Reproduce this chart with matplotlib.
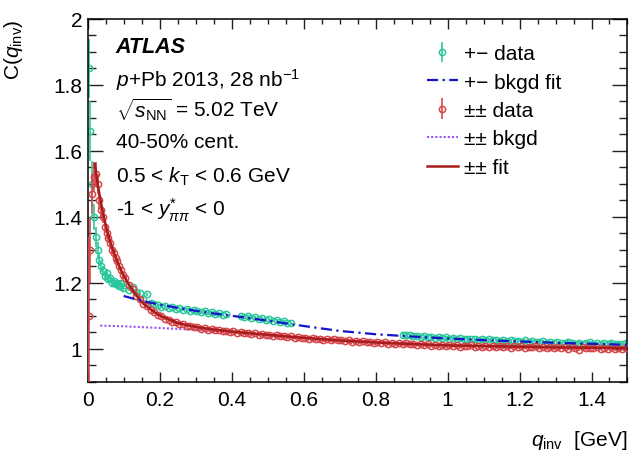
import numpy as np
import matplotlib.pyplot as plt
from matplotlib.ticker import MultipleLocator

plt.rcParams['font.family'] = ['Liberation Sans', 'DejaVu Sans']
plt.rcParams['mathtext.fontset'] = 'custom'
plt.rcParams['mathtext.rm'] = 'Liberation Sans'
plt.rcParams['mathtext.it'] = 'Liberation Sans:italic'
plt.rcParams['mathtext.bf'] = 'Liberation Sans:bold'

# bin centres: 5 MeV bins below 0.1 GeV, 10 MeV bins above
q_low = np.arange(0.0025, 0.1, 0.005)
q_high = np.arange(0.105, 1.5, 0.01)
q_bins = np.concatenate([q_low, q_high])

# like-sign (±±) correlation
ss_low = [1.10, 1.30, 1.47, 1.52, 1.53, 1.50, 1.45, 1.42, 1.40, 1.37,
          1.35, 1.335, 1.32, 1.30, 1.29, 1.275, 1.265, 1.25, 1.238, 1.225]
ss_high = [1.214, 1.193, 1.180, 1.161, 1.152, 1.136, 1.130, 1.116, 1.112, 1.101,
           1.099, 1.090, 1.088, 1.081, 1.080, 1.074, 1.074, 1.069, 1.070, 1.065,
           1.066, 1.061, 1.063, 1.058, 1.060, 1.056, 1.058, 1.053, 1.055, 1.051,
           1.053, 1.049, 1.051, 1.048, 1.049, 1.045, 1.047, 1.043, 1.045, 1.041,
           1.043, 1.040, 1.041, 1.038, 1.039, 1.036, 1.038, 1.034, 1.036, 1.033,
           1.034, 1.031, 1.033, 1.029, 1.031, 1.027, 1.030, 1.026, 1.028, 1.025,
           1.026, 1.023, 1.025, 1.021, 1.024, 1.020, 1.022, 1.019, 1.021, 1.018,
           1.020, 1.017, 1.019, 1.015, 1.018, 1.014, 1.017, 1.013, 1.016, 1.013,
           1.015, 1.011, 1.014, 1.010, 1.013, 1.009, 1.012, 1.009, 1.012, 1.008,
           1.011, 1.007, 1.010, 1.006, 1.009, 1.007, 1.010, 1.005, 1.009, 1.006,
           1.009, 1.005, 1.008, 1.004, 1.008, 1.005, 1.007, 1.003, 1.008, 1.004,
           1.007, 1.003, 1.006, 1.004, 1.007, 1.002, 1.006, 1.003, 1.005, 1.002,
           1.006, 1.001, 1.005, 0.999, 1.004, 1.002, 0.997, 1.004, 1.001, 1.003,
           1.002, 1.005, 0.999, 1.003, 1.000, 1.004, 0.998, 1.002, 1.000, 1.003]
ss_err_low = [0.24, 0.10, 0.06, 0.045, 0.035, 0.03, 0.025, 0.022, 0.02, 0.018,
              0.016, 0.015, 0.014, 0.013, 0.012, 0.011, 0.010, 0.010, 0.009, 0.009]
ss_err_high = 0.003

# opposite-sign (+−) correlation, nan = excluded resonance regions
os_low = [1.85, 1.66, 1.50, 1.40, 1.34, 1.30, 1.27, 1.25, 1.235, 1.22,
          1.23, 1.21, 1.215, 1.20, 1.205, 1.195, 1.20, 1.19, 1.198, 1.185]
os_high = [1.192, 1.178, 1.188, 1.172, 1.168, 1.152, 1.165, 1.140, 1.136, 1.133,
           1.128, 1.131, 1.124, 1.127, 1.120, 1.123, 1.117, 1.120, 1.114, 1.117,
           1.113, 1.110, 1.113, 1.107, 1.110, 1.104, 1.108, 1.103, 1.105, np.nan,
           np.nan, np.nan, 1.099, 1.096, 1.098, 1.093, 1.095, 1.090, 1.092, 1.087,
           1.089, 1.084, 1.086, 1.081, 1.083, 1.078, 1.077, np.nan, np.nan, np.nan,
           np.nan, np.nan, np.nan, np.nan, np.nan, np.nan, np.nan, np.nan, np.nan, np.nan,
           np.nan, np.nan, np.nan, np.nan, np.nan, np.nan, np.nan, np.nan, np.nan, np.nan,
           np.nan, np.nan, np.nan, np.nan, np.nan, np.nan, np.nan, 1.043, 1.041, 1.042,
           1.038, 1.040, 1.036, 1.038, 1.035, 1.037, 1.034, 1.036, 1.033, 1.035,
           1.031, 1.034, 1.030, 1.033, 1.029, 1.031, 1.028, 1.030, 1.027, 1.029,
           1.026, 1.028, 1.025, 1.027, 1.024, 1.026, 1.023, 1.025, 1.022, 1.024,
           1.021, 1.025, 1.020, 1.022, 1.019, 1.021, 1.023, 1.018, 1.020, 1.017,
           1.019, 1.016, 1.018, 1.021, 1.017, 1.015, 1.018, 1.014, 1.016, 1.019,
           1.015, 1.017, 1.013, 1.016, 1.014, 1.018, 1.013, 1.015, 1.014, 1.016]
os_err_low = [0.09, 0.09, 0.07, 0.04, 0.03, 0.025, 0.02, 0.018, 0.015, 0.014,
              0.013, 0.012, 0.011, 0.011, 0.010, 0.010, 0.010, 0.009, 0.009, 0.009]
os_err_high = 0.004

# fit curves
q_fit = [0.02, 0.025, 0.03, 0.035, 0.04, 0.05, 0.06, 0.07, 0.08, 0.09, 0.1, 0.12,
         0.14, 0.16, 0.18, 0.2, 0.25, 0.3, 0.35, 0.4, 0.5, 0.6, 0.7, 0.8, 0.9,
         1.0, 1.1, 1.2, 1.3, 1.4, 1.5]
ss_fit = [1.56, 1.52, 1.485, 1.455, 1.425, 1.375, 1.335, 1.30, 1.27, 1.245, 1.222, 1.185,
          1.155, 1.132, 1.115, 1.101, 1.078, 1.066, 1.058, 1.052, 1.042, 1.033, 1.025,
          1.019, 1.014, 1.010, 1.008, 1.006, 1.004, 1.003, 1.002]

q_ss_bkg = [0.035, 0.1, 0.2, 0.3, 0.4, 0.5, 0.6, 0.7, 0.8, 0.9, 1.0, 1.1, 1.2, 1.3, 1.4, 1.5]
ss_bkg = [1.070, 1.068, 1.063, 1.057, 1.050, 1.041, 1.032, 1.025, 1.019, 1.014,
          1.010, 1.008, 1.006, 1.004, 1.003, 1.002]

q_os_bkg = [0.1, 0.15, 0.2, 0.25, 0.3, 0.35, 0.4, 0.5, 0.6, 0.7, 0.8, 0.9,
            1.0, 1.1, 1.2, 1.3, 1.4, 1.5]
os_bkg = [1.160, 1.145, 1.134, 1.124, 1.115, 1.107, 1.100, 1.085, 1.069, 1.054,
          1.044, 1.037, 1.031, 1.026, 1.022, 1.018, 1.015, 1.012]

green = '#2ac79c'
red = '#d5474a'
fit_red = '#a81c1c'
blue = '#1414c8'
violet = '#9a55f5'

ss_vals = np.array(ss_low + ss_high)
os_vals = np.array(os_low + os_high)
ss_err = np.concatenate([ss_err_low, np.full(len(ss_high), ss_err_high)])
os_err = np.concatenate([os_err_low, np.full(len(os_high), os_err_high)])

fig = plt.figure(figsize=(6.33, 4.52), dpi=100)
ax = fig.add_axes([0.1385, 0.1533, 0.8528, 0.8025])

h_os = ax.errorbar(q_bins, os_vals, yerr=os_err, fmt='o', ms=4.5, mfc='none',
                   mec=green, color=green, mew=1.1, elinewidth=1.2, zorder=2)
h_ssb, = ax.plot(q_ss_bkg, ss_bkg, ls=(0, (1, 1)), color=violet, lw=1.5, zorder=2.5)
h_ss = ax.errorbar(q_bins, ss_vals, yerr=ss_err, fmt='o', ms=4.5, mfc='none',
                   mec=red, color=red, mew=1.1, elinewidth=1.2, zorder=3)
h_ssf, = ax.plot(q_fit, ss_fit, '-', color=fit_red, lw=1.8, zorder=4)
h_osb, = ax.plot(q_os_bkg, os_bkg, ls=(0, (5, 2, 1, 2)), color=blue, lw=1.6, zorder=5)

ax.set_xlim(0, 1.5)
ax.set_ylim(0.9, 2.0)
ax.xaxis.set_minor_locator(MultipleLocator(0.05))
ax.yaxis.set_minor_locator(MultipleLocator(0.05))
ax.set_xticks([0, 0.2, 0.4, 0.6, 0.8, 1.0, 1.2, 1.4])
ax.set_xticklabels(['0', '0.2', '0.4', '0.6', '0.8', '1', '1.2', '1.4'])
ax.set_yticks([1.0, 1.2, 1.4, 1.6, 1.8, 2.0])
ax.set_yticklabels(['1', '1.2', '1.4', '1.6', '1.8', '2'])
ax.tick_params(which='both', direction='in', top=True, right=True, labelsize=15,
               width=1.0, color='#222222')
ax.tick_params(axis='x', which='major', length=7.5, pad=6)
ax.tick_params(axis='x', which='minor', length=3.8)
ax.tick_params(axis='y', which='major', length=11, pad=4)
ax.tick_params(axis='y', which='minor', length=5.5)
for s in ax.spines.values():
    s.set_linewidth(1.1)

ax.set_xlabel(r'$q_{\rm inv}$  [GeV]', fontsize=15, loc='right', labelpad=14)
ax.set_ylabel(r'C($q_{\rm inv}$)', fontsize=15, loc='top', labelpad=20)

tx = 0.052
ax.text(tx, 0.925, 'ATLAS', transform=ax.transAxes, fontsize=15.5,
        fontweight='bold', fontstyle='italic', va='center')
ax.text(tx, 0.834, r'$p$+Pb 2013, 28 nb$^{-1}$', transform=ax.transAxes,
        fontsize=15, va='center')
ax.text(tx, 0.752, r'$\sqrt{s_{\rm NN}}$ = 5.02 TeV', transform=ax.transAxes,
        fontsize=15, va='center')
ax.text(tx, 0.661, '40-50% cent.', transform=ax.transAxes, fontsize=15, va='center')
ax.text(tx, 0.567, r'0.5 < $k_{\rm T}$ < 0.6 GeV', transform=ax.transAxes,
        fontsize=15, va='center')
ax.text(tx, 0.476, r'-1 < $y^{*}_{\pi\pi}$ < 0', transform=ax.transAxes,
        fontsize=15, va='center')

ax.legend([h_os, h_osb, h_ss, h_ssb, h_ssf],
          ['+\u2212 data', '+\u2212 bkgd fit', '\u00b1\u00b1 data', '\u00b1\u00b1 bkgd', '\u00b1\u00b1 fit'],
          loc='upper left', bbox_to_anchor=(0.628, 0.93), frameon=False,
          fontsize=15, handlelength=1.5, handletextpad=0.3, labelspacing=0.45,
          borderpad=0, borderaxespad=0)

fig.savefig('out.png', dpi=100)
